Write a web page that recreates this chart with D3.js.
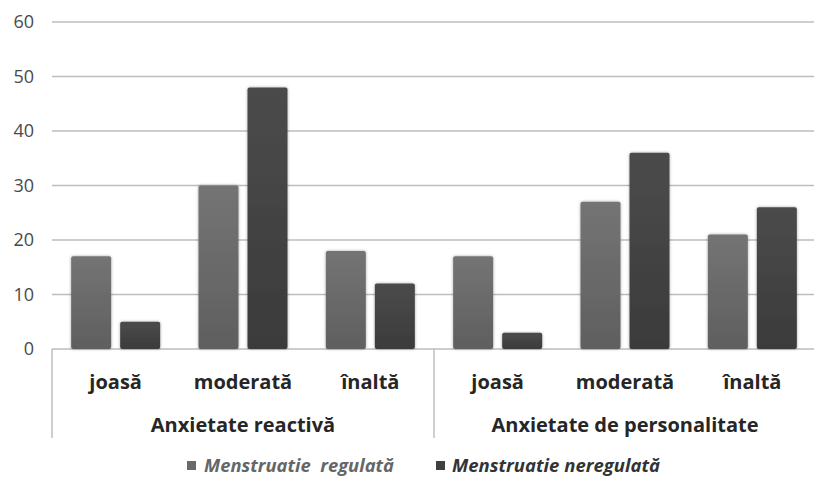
<!DOCTYPE html>
<html><head><meta charset="utf-8">
<script src="https://cdn.jsdelivr.net/npm/d3@7"></script>
<style>
html,body{margin:0;padding:0;background:#fff;}
svg{display:block;}
</style></head>
<body>
<svg id="chart" width="814" height="478"></svg>
<script>
const groups = ["Anxietate reactivă", "Anxietate de personalitate"];
const levels = ["joasă", "moderată", "înaltă"];
const seriesNames = ["Menstruatie  regulată", "Menstruatie neregulată"];
const regular = [17, 30, 18, 17, 27, 21];
const irregular = [5, 48, 12, 3, 36, 26];
const yTicks = [0, 10, 20, 30, 40, 50, 60];

const W = 814, H = 478;
const mLeft = 52, mRight = 816, mTop = 22, mBottom = 349, axisBottom = 438;
const font = "'Open Sans', sans-serif";

const svg = d3.select("#chart");
const defs = svg.append("defs");
function grad(id, c1, c2) {
  const g = defs.append("linearGradient").attr("id", id).attr("x1", 0).attr("y1", 0).attr("x2", 0).attr("y2", 1);
  g.append("stop").attr("offset", "0%").attr("stop-color", c1);
  g.append("stop").attr("offset", "100%").attr("stop-color", c2);
}
grad("gLight", "#747474", "#5f5f5f");
grad("gDark", "#4b4b4b", "#3b3b3b");
const f = defs.append("filter").attr("id", "sh").attr("x", "-20%").attr("y", "-10%").attr("width", "140%").attr("height", "120%");
f.append("feDropShadow").attr("dx", 0).attr("dy", 0).attr("stdDeviation", 1.5).attr("flood-color", "#000").attr("flood-opacity", 0.35);

const cats = d3.range(groups.length * levels.length);
const x = d3.scaleBand().domain(cats).range([mLeft, mRight]).padding(0);
const xs = d3.scaleBand().domain([0, 1]).range([0, x.bandwidth()]).paddingInner(0.184).paddingOuter(0.391);
const y = d3.scaleLinear().domain([0, 60]).range([mBottom, mTop]);

// grid lines
svg.append("g").selectAll("line").data(yTicks).join("line")
  .attr("x1", mLeft).attr("x2", W).attr("y1", d => y(d)).attr("y2", d => y(d))
  .attr("stroke", "#bdbdbd").attr("stroke-width", 1.5);

// y tick labels
svg.append("g").selectAll("text").data(yTicks).join("text")
  .attr("x", 34).attr("y", d => y(d)).attr("dy", "0.35em")
  .attr("text-anchor", "end").attr("font-family", font)
  .attr("font-size", 18).attr("fill", "#4a4a4a").text(d => d);

// vertical axis lines & divider
const gx = d3.scaleBand().domain(d3.range(groups.length)).range([mLeft, mRight]);
svg.append("g").selectAll("line").data(d3.range(groups.length)).join("line")
  .attr("x1", d => gx(d)).attr("x2", d => gx(d)).attr("y1", mBottom).attr("y2", axisBottom)
  .attr("stroke", "#b5b5b5").attr("stroke-width", 1.3);

// bars
const data = [];
cats.forEach(c => {
  data.push({c, s: 0, v: regular[c]});
  data.push({c, s: 1, v: irregular[c]});
});
svg.append("g").selectAll("rect").data(data).join("rect")
  .attr("x", d => x(d.c) + xs(d.s)).attr("width", xs.bandwidth())
  .attr("y", d => y(d.v)).attr("height", d => y(0) - y(d.v))
  .attr("rx", 2)
  .attr("fill", d => d.s === 0 ? "url(#gLight)" : "url(#gDark)")
  .attr("filter", "url(#sh)");

// level labels
svg.append("g").selectAll("text").data(cats).join("text")
  .attr("x", d => x(d) + x.bandwidth() / 2).attr("y", 389)
  .attr("text-anchor", "middle").attr("font-family", font).attr("font-weight", "bold")
  .attr("font-size", 20).attr("fill", "#262626")
  .text(d => levels[d % levels.length]);

// group labels
svg.append("g").selectAll("text").data(groups).join("text")
  .attr("x", (d, i) => gx(i) + gx.bandwidth() / 2).attr("y", 432)
  .attr("text-anchor", "middle").attr("font-family", font).attr("font-weight", "bold")
  .attr("font-size", 20).attr("fill", "#262626")
  .text(d => d);

// legend
const leg = [
  {name: seriesNames[0], sx: 187, tx: 204, col: "#6a6a6a", tcol: "#666", w: 190},
  {name: seriesNames[1], sx: 436, tx: 452, col: "#404040", tcol: "#333", w: 208}
];
const lg = svg.append("g");
lg.selectAll("rect").data(leg).join("rect")
  .attr("x", d => d.sx).attr("y", 461).attr("width", 9).attr("height", 9).attr("fill", d => d.col);
lg.selectAll("text").data(leg).join("text")
  .attr("x", d => d.tx).attr("y", 472)
  .attr("font-family", font).attr("font-weight", "bold").attr("font-style", "italic")
  .attr("font-size", 18).attr("fill", d => d.tcol)
  .attr("textLength", d => d.w).attr("lengthAdjust", "spacingAndGlyphs")
  .style("white-space", "pre")
  .text(d => d.name);
</script>
</body></html>
